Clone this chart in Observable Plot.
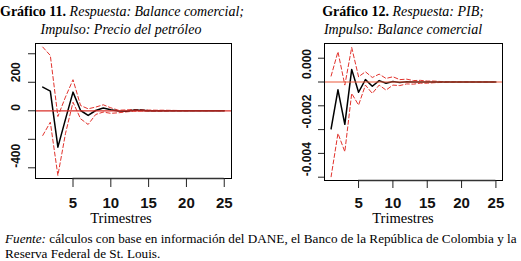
<!DOCTYPE html>
<html><head><meta charset="utf-8">
<script src="https://cdn.jsdelivr.net/npm/d3@7"></script>
<script src="https://cdn.jsdelivr.net/npm/@observablehq/plot@0.6"></script>
<style>
html,body{margin:0;padding:0;background:#fff;}
#page{position:relative;width:521px;height:261px;overflow:hidden;color:#000;}
.serif{font-family:"Liberation Serif","Times New Roman","DejaVu Serif",serif;}
.chart{position:absolute;top:0;}
.title{position:absolute;top:3px;text-align:center;font-size:14px;line-height:18px;white-space:nowrap;}
.xlab{position:absolute;top:210px;text-align:center;font-size:14.5px;line-height:16px;white-space:nowrap;}
.foot{position:absolute;left:5px;font-size:13.2px;line-height:15px;white-space:nowrap;}
</style></head>
<body><div id="page">
<div id="c1" class="chart" style="left:0"></div>
<div id="c2" class="chart" style="left:260px"></div>
<div class="title serif" style="left:0;width:242px"><b>Gráfico 11.</b> <i>Respuesta: Balance comercial;</i><br><i>Impulso: Precio del petróleo</i></div>
<div class="title serif" style="left:283px;width:240px"><b>Gráfico 12.</b> <i>Respuesta: PIB;</i><br><i>Impulso: Balance comercial</i></div>
<div class="xlab serif" style="left:71px;width:100px">Trimestres</div>
<div class="xlab serif" style="left:353px;width:100px">Trimestres</div>
<div class="foot serif" style="top:231px"><i>Fuente:</i> cálculos con base en información del DANE, el Banco de la República de Colombia y la</div>
<div class="foot serif" style="top:246px">Reserva Federal de St. Louis.</div>
</div>
<script>
// ---- data ----
const periods = [1,2,3,4,5,6,7,8,9,10,11,12,13,14,15,16,17,18,19,20,21,22,23,24,25];
const xTicks = [5,10,15,20,25];

// Gráfico 11: respuesta del balance comercial a un choque del precio del petróleo
const irf11   = [166,138,-255,-60,131,2,-33,2,19,7,-2,-3,3,4,1,0,0,0,0,0,0,0,0,0,0];
const upper11 = [447,388,-40,96,218,37,14,26,42,21,4,6,9,8,5,4,4,3,2,2,1,1,1,1,1];
const lower11 = [-173,-80,-454,-161,60,-56,-96,-26,-9,-18,-14,-8,-3,-2,-2,-3,-2,-1,-1,-1,0,0,0,0,0];
const yTicks11 = [-400,-200,0,200,400];
const yLabels11 = [200,0,-400];
const yLabelText11 = ["200","0","-400"];

// Gráfico 12: respuesta del PIB a un choque del balance comercial
const irf12   = [-0.00197,-0.00033,-0.00178,0.00053,-0.00043,0.0001,-0.00018,0.00006,-0.00005,0.00002,-0.00002,0.00001,0,0,0,0,0,0,0,0,0,0,0,0,0];
const upper12 = [0.00025,0.00127,-0.00013,0.00145,0.00022,0.00043,0.00019,0.00033,0.00015,0.00022,0.0001,0.00012,0.00006,0.00007,0.00004,0.00004,0.00002,0.00001,0.00001,0,0,0,0,0,0];
const lower12 = [-0.00398,-0.00216,-0.00293,-0.00048,-0.00097,-0.00013,-0.00048,-0.00013,-0.00034,-0.00013,-0.00015,-0.00008,-0.00009,-0.00005,-0.00005,-0.00003,-0.00002,-0.00001,-0.00001,0,0,0,0,0,0];
const yTicks12 = [0.001,0,-0.001,-0.002,-0.003,-0.004];
const yLabels12 = [0,-0.002,-0.004];
const yLabelText12 = ["0.000","-0.002","-0.004"];

function build(o) {
  const data = periods.map((t, i) => ({t, v: o.irf[i], hi: o.upper[i], lo: o.lower[i]}));
  const svg = Plot.plot({
    width: o.width, height: 230,
    marginLeft: o.ml, marginRight: o.mr, marginTop: 43, marginBottom: o.mb,
    x: {domain: [0.04, 25.96], axis: null},
    y: {domain: o.ydom, axis: null},
    style: {background: "transparent", overflow: "visible"},
    marks: [
      Plot.line(data, {x: "t", y: "hi", stroke: "#e2332d", strokeWidth: 1, strokeDasharray: "4,2.5"}),
      Plot.line(data, {x: "t", y: "lo", stroke: "#e2332d", strokeWidth: 1, strokeDasharray: "4,2.5"}),
      Plot.line(data, {x: "t", y: "v", stroke: "#000", strokeWidth: 1.5}),
      Plot.ruleY([0], {stroke: o.zero, strokeWidth: 1.2}),
      Plot.frame({stroke: "#000", strokeWidth: 1}),
      Plot.ruleY([o.ydom[0]], {x1: xTicks[0], x2: xTicks[xTicks.length-1], stroke: "#333", strokeWidth: 1.6}),
      Plot.axisX({ticks: xTicks, tickSize: o.xtick, tickFormat: () => "", label: null, stroke: "#222"}),
      Plot.axisY({ticks: o.yTicks, tickSize: o.ytick, tickFormat: () => "", label: null, stroke: "#222"}),
      Plot.text(xTicks, {x: d => d, frameAnchor: "bottom", dy: o.xdy, text: d => String(d),
        fontSize: 15, fontWeight: "bold", fontFamily: "Liberation Sans", lineAnchor: "middle", fill: "#111", ariaLabel: "xlabels"}),
      Plot.text(o.yLabels, {y: d => d, frameAnchor: "left", dx: o.ydx, dy: o.ydy, rotate: -90,
        textAnchor: o.yanchor, text: (d, i) => o.yText[i], fontSize: 12, fontWeight: "bold",
        fontFamily: "Liberation Sans", fill: "#111", ariaLabel: "ylabels"})
    ]
  });
  svg.querySelectorAll('g[aria-label="xlabels"] text').forEach(t => {
    t.setAttribute("transform", (t.getAttribute("transform") || "") + " scale(1,0.74)");
  });
  if (o.yscale !== 1) {
    svg.querySelectorAll('g[aria-label="ylabels"] text').forEach(t => {
      t.setAttribute("transform", (t.getAttribute("transform") || "") + ` scale(${o.yscale},1)`);
    });
  }
  return svg;
}

document.getElementById("c1").appendChild(build({
  irf: irf11, upper: upper11, lower: lower11, width: 260, ml: 35, mr: 29, mb: 52,
  ydom: [-475, 472], zero: "#d9302a", yTicks: yTicks11, yLabels: yLabels11, yText: yLabelText11,
  xtick: 9, ytick: 7, xdy: 25, ydx: -19, ydy: 0, yanchor: "start", yscale: 1
}));
document.getElementById("c2").appendChild(build({
  irf: irf12, upper: upper12, lower: lower12, width: 261, ml: 64, mr: 19, mb: 50,
  ydom: [-0.004139, 0.001618], zero: "#ec5a3c", yTicks: yTicks12, yLabels: yLabels12, yText: yLabelText12,
  xtick: 8, ytick: 6, xdy: 23, ydx: -17.5, ydy: -18, yanchor: "middle", yscale: 0.67
}));
</script>
</body></html>
